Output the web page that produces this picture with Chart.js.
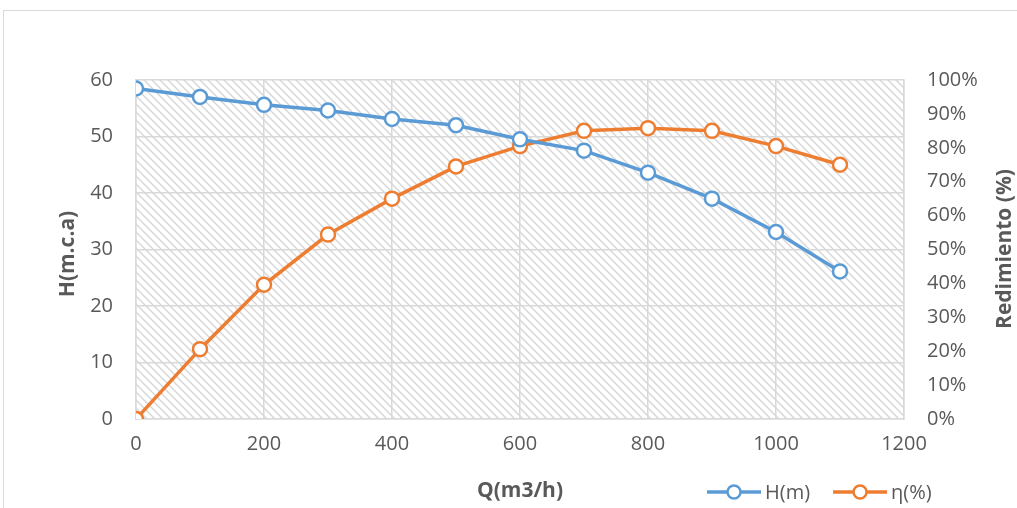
<!DOCTYPE html>
<html>
<head>
<meta charset="utf-8">
<script src="https://cdn.jsdelivr.net/npm/chart.js@4"></script>
<style>
  html, body { margin: 0; padding: 0; background: #fff; }
  #wrap { width: 1017px; height: 508px; }
</style>
</head>
<body>
<div id="wrap"><canvas id="chart" width="1017" height="508"></canvas></div>
<script>
// Datos de la curva de la bomba
const caudal = [0, 100, 200, 300, 400, 500, 600, 700, 800, 900, 1000, 1100]; // Q(m3/h)
const altura = [58.5, 57.0, 55.6, 54.6, 53.1, 52.0, 49.5, 47.5, 43.6, 39.0, 33.1, 26.1]; // H(m)
const rendimiento = [0, 20.6, 39.6, 54.4, 65.0, 74.5, 80.5, 85.0, 85.8, 85.0, 80.5, 75.0]; // η(%)
const xTicks = [0, 200, 400, 600, 800, 1000, 1200];
const hTicks = [0, 10, 20, 30, 40, 50, 60];
const etaTicks = [0, 10, 20, 30, 40, 50, 60, 70, 80, 90, 100];
const titulos = { x: 'Q(m3/h)', y: 'H(m.c.a)', y1: 'Redimiento (%)' };

const FONT = "'Open Sans', sans-serif";
const TXT = '#595959';
const GRID = '#d9d9d9';
const AZUL = '#5b9bd5';
const NARANJA = '#ed7d31';

// patrón rayado del área de trazado
function hatchPattern(ctx) {
    const n = 8;
    const c = document.createElement('canvas');
    c.width = n; c.height = n;
    const g = c.getContext('2d');
    g.fillStyle = '#ffffff';
    g.fillRect(0, 0, n, n);
    g.strokeStyle = '#d6d6d6';
    g.lineWidth = 1.4;
    g.beginPath();
    g.moveTo(-1, -1); g.lineTo(n + 1, n + 1);
    g.moveTo(-1, n - 1); g.lineTo(1, n + 1);
    g.moveTo(n - 1, -1); g.lineTo(n + 1, 1);
    g.stroke();
    return ctx.createPattern(c, 'repeat');
}

const fondo = {
    id: 'fondo',
    beforeDraw(chart) {
        const { ctx, chartArea: a } = chart;
        ctx.save();
        ctx.fillStyle = '#fff';
        ctx.fillRect(0, 0, chart.width, chart.height);
        // marco exterior
        ctx.strokeStyle = '#d9d9d9';
        ctx.lineWidth = 1;
        ctx.strokeRect(3.5, 10.5, chart.width + 20, chart.height + 20);
        ctx.fillStyle = hatchPattern(ctx);
        ctx.fillRect(a.left, a.top, a.right - a.left, a.bottom - a.top);
        ctx.restore();
    }
};

// títulos de ejes y leyenda (línea + marcador)
const extras = {
    id: 'extras',
    afterDraw(chart) {
        const { ctx, chartArea: a } = chart;
        ctx.save();
        ctx.fillStyle = TXT;
        ctx.font = 'bold 21px ' + FONT;
        ctx.textAlign = 'center';
        ctx.textBaseline = 'middle';
        ctx.fillText(titulos.x, (a.left + a.right) / 2, 491);
        [[68, 254, titulos.y], [1005, 249, titulos.y1]].forEach(([x, y, t]) => {
            ctx.save();
            ctx.translate(x, y);
            ctx.rotate(-Math.PI / 2);
            ctx.fillText(t, 0, 0);
            ctx.restore();
        });

        const y = 492;
        let x = 707;
        ctx.font = '20px ' + FONT;
        ctx.textAlign = 'left';
        chart.data.datasets.forEach(ds => {
            ctx.strokeStyle = ds.borderColor;
            ctx.lineWidth = 3.5;
            ctx.beginPath();
            ctx.moveTo(x, y); ctx.lineTo(x + 54, y);
            ctx.stroke();
            ctx.beginPath();
            ctx.arc(x + 27, y, 6.5, 0, Math.PI * 2);
            ctx.fillStyle = '#fff';
            ctx.fill();
            ctx.lineWidth = 2.5;
            ctx.stroke();
            ctx.fillStyle = TXT;
            ctx.fillText(ds.label, x + 58, y + 1);
            x += 58 + ctx.measureText(ds.label).width + 23;
        });
        ctx.restore();
    }
};

const tickFont = { family: FONT, size: 20 };

const ctx = document.getElementById('chart').getContext('2d');
new Chart(ctx, {
    type: 'line',
    data: {
        datasets: [{
            label: 'H(m)',
            data: caudal.map((q, i) => ({ x: q, y: altura[i] })),
            borderColor: AZUL,
            backgroundColor: '#fff',
            borderWidth: 3.5,
            pointRadius: 7,
            pointBorderWidth: 2.5,
            pointBackgroundColor: '#fff',
            pointBorderColor: AZUL,
            yAxisID: 'y'
        }, {
            label: 'η(%)',
            data: caudal.map((q, i) => ({ x: q, y: rendimiento[i] })),
            borderColor: NARANJA,
            backgroundColor: '#fff',
            borderWidth: 3.5,
            pointRadius: 7,
            pointBorderWidth: 2.5,
            pointBackgroundColor: '#fff',
            pointBorderColor: NARANJA,
            yAxisID: 'y1'
        }]
    },
    options: {
        responsive: false,
        animation: false,
        layout: { padding: { top: 80, left: 0, right: 0, bottom: 0 } },
        plugins: {
            legend: { display: false },
            tooltip: { enabled: false }
        },
        scales: {
            x: {
                type: 'linear',
                min: 0, max: 1200,
                afterBuildTicks: s => { s.ticks = xTicks.map(v => ({ value: v })); },
                afterFit: s => { s.height = 89; },
                grid: { color: GRID, lineWidth: 1.5, drawTicks: false },
                border: { color: GRID, width: 1.5 },
                ticks: { color: TXT, font: tickFont, padding: 13, callback: v => String(v) }
            },
            y: {
                position: 'left',
                min: 0, max: 60,
                afterBuildTicks: s => { s.ticks = hTicks.map(v => ({ value: v })); },
                afterFit: s => { s.width = 136; },
                grid: { color: GRID, lineWidth: 1.5, drawTicks: false },
                border: { color: GRID, width: 1.5 },
                ticks: { color: TXT, font: tickFont, padding: 23, callback: v => String(v) }
            },
            y1: {
                position: 'right',
                min: 0, max: 100,
                afterBuildTicks: s => { s.ticks = etaTicks.map(v => ({ value: v })); },
                afterFit: s => { s.width = 113; },
                grid: { drawOnChartArea: false, drawTicks: false },
                border: { color: GRID, width: 1.5 },
                ticks: { color: TXT, font: tickFont, padding: 23, callback: v => v + '%' }
            }
        }
    },
    plugins: [fondo, extras]
});
</script>
</body>
</html>
